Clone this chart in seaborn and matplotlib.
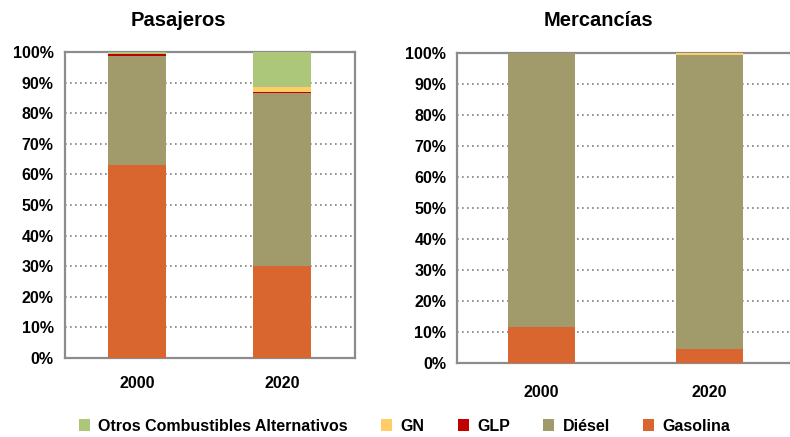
import matplotlib.pyplot as plt
import matplotlib.ticker as mticker
from matplotlib.patches import Patch
import pandas as pd
import seaborn as sns

# data (% share per fuel)
years = ['2000', '2020']
fuels = ['Gasolina', 'Diésel', 'GLP', 'GN', 'Otros Combustibles Alternativos']
pasajeros = {
    'Gasolina': [63.0, 30.0],
    'Diésel': [35.7, 56.5],
    'GLP': [0.6, 0.5],
    'GN': [0.0, 1.7],
    'Otros Combustibles Alternativos': [0.7, 11.3],
}
mercancias = {
    'Gasolina': [11.6, 4.4],
    'Diésel': [88.4, 95.0],
    'GLP': [0.0, 0.0],
    'GN': [0.0, 0.6],
    'Otros Combustibles Alternativos': [0.0, 0.0],
}
colors = {
    'Gasolina': '#D9662E',
    'Diésel': '#A19A6A',
    'GLP': '#C00000',
    'GN': '#FFCC66',
    'Otros Combustibles Alternativos': '#ADC77A',
}

sns.set_theme(style='white')
plt.rcParams['font.family'] = ['Liberation Sans', 'DejaVu Sans']
plt.rcParams['font.weight'] = 'bold'
plt.rcParams['text.color'] = 'black'
plt.rcParams['xtick.labelcolor'] = 'black'
plt.rcParams['ytick.labelcolor'] = 'black'

fig = plt.figure(figsize=(7.9, 4.37), dpi=100)
ax1 = fig.add_axes([0.082, 0.181, 0.367, 0.700])
ax2 = fig.add_axes([0.579, 0.169, 0.425, 0.710])

spine_col = '#8C8C8C'


def draw(ax, values, right_spine=True, xpad=13):
    df = pd.DataFrame(values, index=years)
    bottom = pd.Series(0.0, index=years)
    for fuel in fuels:
        seg = df[fuel]
        sns.barplot(x=years, y=(bottom + seg).values, color=colors[fuel], width=0.4,
                    ax=ax, saturation=1, edgecolor='none')
        bottom = bottom + seg
    # cumulative bars: lower segments drawn on top
    n = len(years)
    for i, p in enumerate(ax.patches):
        p.set_zorder(10 - i // n)
    ax.set_ylim(0, 100)
    ax.set_xlim(-0.5, 1.5)
    ax.yaxis.set_major_locator(mticker.MultipleLocator(10))
    ax.yaxis.set_major_formatter(mticker.FuncFormatter(lambda v, p: f'{v:.0f}%'))
    ax.set_xticks([0, 1])
    ax.set_xticklabels(years)
    ax.set_xticks([-0.5, 0.5, 1.5], minor=True)
    ax.tick_params(axis='x', which='major', length=0, pad=xpad, labelsize=11.5)
    ax.tick_params(axis='x', which='minor', length=5, width=1.5, color=spine_col, direction='out')
    ax.tick_params(axis='y', length=5, width=1.5, color=spine_col, direction='out', labelsize=11.5, pad=3)
    ax.grid(axis='y', linestyle=(0, (1, 2)), color='#7F7F7F', linewidth=1.2, zorder=1)
    ax.set_axisbelow(True)
    for side in ['left', 'bottom', 'top', 'right']:
        ax.spines[side].set_color(spine_col)
        ax.spines[side].set_linewidth(1.6)
    ax.spines['right'].set_visible(right_spine)
    ax.set_xlabel('')
    ax.set_ylabel('')
    for lab in ax.get_xticklabels() + ax.get_yticklabels():
        lab.set_fontweight('bold')


draw(ax1, pasajeros)
draw(ax2, mercancias, right_spine=False, xpad=16)

fig.text(0.226, 0.953, 'Pasajeros', ha='center', va='center', fontsize=14.5, fontweight='bold')
fig.text(0.757, 0.953, 'Mercancías', ha='center', va='center', fontsize=14.5, fontweight='bold')

legend_order = ['Otros Combustibles Alternativos', 'GN', 'GLP', 'Diésel', 'Gasolina']
handles = [Patch(facecolor=colors[f], edgecolor='none') for f in legend_order]
fig.legend(handles, legend_order, loc='center', bbox_to_anchor=(0.512, 0.025), ncol=5,
           frameon=False, handlelength=0.7, handleheight=0.7, handletextpad=0.5,
           columnspacing=2.1, prop={'weight': 'bold', 'size': 11.5})

fig.savefig('out.png', dpi=100)
